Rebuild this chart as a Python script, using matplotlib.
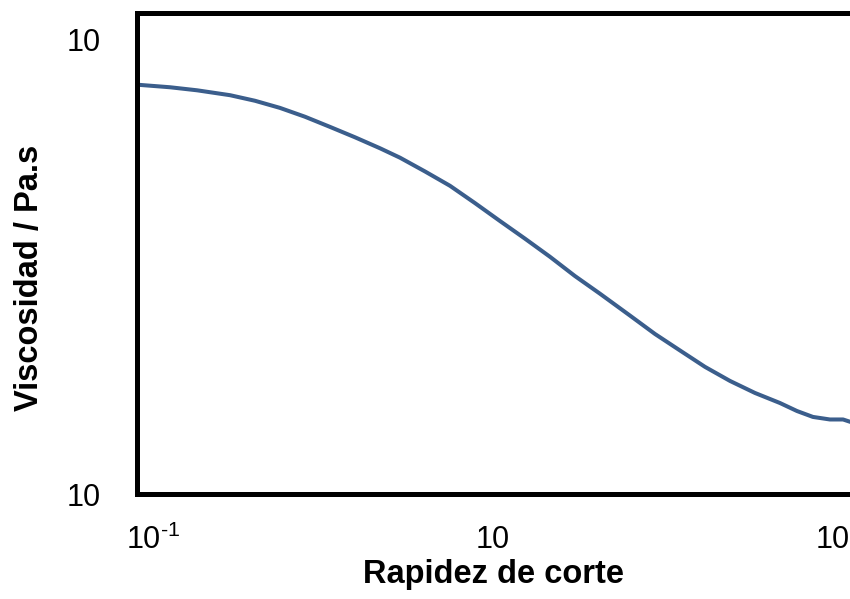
import matplotlib
matplotlib.use("Agg")
import matplotlib.pyplot as plt
from matplotlib.ticker import FixedLocator, NullLocator

plt.rcParams['font.family'] = ['Liberation Sans', 'DejaVu Sans']
plt.rcParams['mathtext.fontset'] = 'custom'
plt.rcParams['mathtext.rm'] = 'Liberation Sans'
plt.rcParams['mathtext.default'] = 'regular'

# Flow curve: shear rate (1/s) vs. viscosity (Pa.s)
shear_rate = [0.0817, 0.126, 0.1816, 0.284, 0.398, 0.558, 0.783, 1.099, 1.542,
              2.163, 2.838, 3.98, 5.585, 7.83, 10.99, 15.4, 21.6, 30.3, 42.6,
              64.0, 89.8, 125.9, 176.6, 247.7, 347.5, 487.5, 613.8, 762.0,
              959.0, 1146.0, 1349.0]
viscosity = [7.96, 7.86, 7.74, 7.55, 7.34, 7.08, 6.77, 6.43, 6.10,
             5.77, 5.50, 5.13, 4.77, 4.37, 3.99, 3.65, 3.33, 3.02, 2.76,
             2.47, 2.25, 2.07, 1.905, 1.774, 1.669, 1.586, 1.523, 1.478,
             1.459, 1.459, 1.430]

x_ticks = [0.1, 10.0, 1000.0]
x_tick_labels = ['10$^{\\text{-1}}$', '10', '10']
y_ticks = [1.0, 10.0]
y_tick_labels = ['10', '10']

fig = plt.figure(figsize=(8.5, 5.99), dpi=100)
ax = fig.add_axes([137 / 850, (599 - 494) / 599, 1 - 137 / 850, (494 - 12.5) / 599])

ax.plot(shear_rate, viscosity, color='#3B5E8C', linewidth=2.9,
        solid_capstyle='round', solid_joinstyle='round')

ax.set_xscale('log')
ax.set_yscale('log')
ax.set_xlim(10 ** -1.094, 10 ** 3.100)
ax.set_ylim(1.0, 10 ** 1.06)

ax.xaxis.set_major_locator(FixedLocator(x_ticks))
ax.xaxis.set_minor_locator(NullLocator())
ax.set_xticklabels(x_tick_labels)
ax.yaxis.set_major_locator(FixedLocator(y_ticks))
ax.yaxis.set_minor_locator(NullLocator())
ax.set_yticklabels(y_tick_labels)

ax.tick_params(axis='both', length=0, labelsize=22)
ax.tick_params(axis='x', pad=22)
ax.tick_params(axis='y', pad=26)

for side in ('left', 'bottom', 'top'):
    ax.spines[side].set_linewidth(3.6)
    ax.spines[side].set_color('black')
ax.spines['right'].set_visible(False)

ax.set_xlabel('Rapidez de corte', fontsize=23.5, fontweight='bold', labelpad=2)
ax.set_ylabel('Viscosidad / Pa.s', fontsize=23.5, fontweight='bold')
ax.yaxis.set_label_coords(-0.129, 0.449)

fig.savefig('out.png', dpi=100)
